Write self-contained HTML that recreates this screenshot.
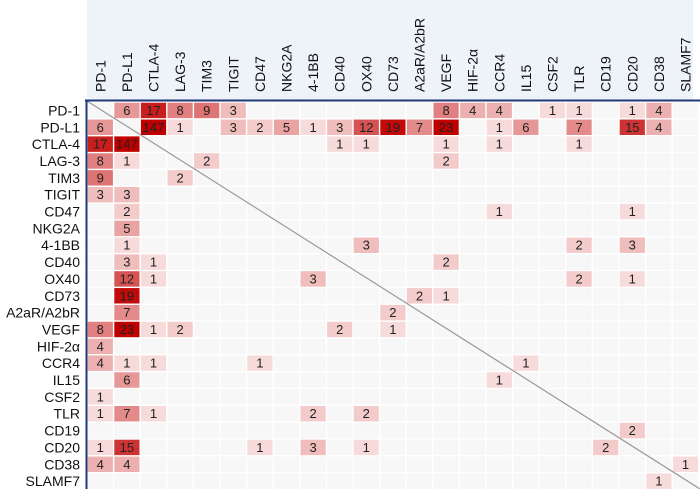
<!DOCTYPE html>
<html><head><meta charset="utf-8"><style>
html,body{margin:0;padding:0;background:#fff;width:700px;height:489px;overflow:hidden}
svg text{font-family:"Liberation Sans",Arial,sans-serif;}
</style></head><body>
<svg id="chart" width="700" height="489" viewBox="0 0 700 489" xmlns="http://www.w3.org/2000/svg">
<rect x="87" y="0" width="606" height="100" fill="#eef3fa"/>
<g id="cells"></g>
<g id="labels"></g>
<line x1="87" y1="101" x2="700" y2="489" stroke="#999" stroke-width="1.2"/>
<line x1="85" y1="100.5" x2="700" y2="100.5" stroke="#1f3a7a" stroke-width="2"/>
<line x1="86.5" y1="100" x2="86.5" y2="489" stroke="#1f3a7a" stroke-width="2"/>
</svg>
<script>
const targets = ["PD-1","PD-L1","CTLA-4","LAG-3","TIM3","TIGIT","CD47","NKG2A","4-1BB","CD40","OX40","CD73","A2aR/A2bR","VEGF","HIF-2α","CCR4","IL15","CSF2","TLR","CD19","CD20","CD38","SLAMF7"];
// row, column, count
const pairRows = [0,0,0,0,0,0,0,0,0,0,0,0,
 1,1,1,1,1,1,1,1,1,1,1,1,1,1,1,1,1,
 2,2,2,2,2,2,2,
 3,3,3,3, 4,4, 5,5, 6,6,6, 7, 8,8,8,8, 9,9,9,
 10,10,10,10,10, 11,11,11, 12,12,
 13,13,13,13,13,13, 14, 15,15,15,15,15, 16,16, 17,
 18,18,18,18,18, 19, 20,20,20,20,20,20, 21,21,21, 22];
const pairCols = [1,2,3,4,5,13,14,15,17,18,20,21,
 0,2,3,5,6,7,8,9,10,11,12,13,15,16,18,20,21,
 0,1,9,10,13,15,18,
 0,1,4,13, 0,3, 0,1, 1,15,20, 1, 1,10,18,20, 1,2,13,
 1,2,8,18,20, 1,12,13, 1,11,
 0,1,2,3,9,11, 0, 0,1,2,6,16, 1,15, 0,
 0,1,2,8,10, 20, 0,1,6,8,10,19, 0,1,22, 21];
const pairValues = [6,17,8,9,3,8,4,4,1,1,1,4,
 6,147,1,3,2,5,1,3,12,19,7,23,1,6,7,15,4,
 17,147,1,1,1,1,1,
 8,1,2,2, 9,2, 3,3, 2,1,1, 5, 1,3,2,3, 3,1,2,
 12,1,3,2,1, 19,2,1, 7,2,
 8,23,1,2,2,1, 4, 4,1,1,1,1, 6,1, 1,
 1,7,1,2,2, 2, 1,15,1,3,1,2, 4,4,1, 1];

const NS="http://www.w3.org/2000/svg";
const x0=87, y0=102, cw=26.6, rh=16.85;
const xPos=i=>x0+i*cw, yPos=j=>y0+j*rh;
function color(v){
  if(!v) return "#f7f7f7";
  const t=Math.min(v,20)/20, a=[252,236,236], b=[192,0,0];
  const c=a.map((s,k)=>Math.round(s+(b[k]-s)*Math.pow(t,0.85)));
  return `rgb(${c[0]},${c[1]},${c[2]})`;
}
const cells=document.getElementById('cells'), labels=document.getElementById('labels');
const grid={};
pairRows.forEach((r,k)=>grid[r+"_"+pairCols[k]]=pairValues[k]);
for(let r=0;r<targets.length;r++){
  for(let c=0;c<targets.length;c++){
    const v=grid[r+"_"+c];
    const rect=document.createElementNS(NS,'rect');
    
    
    rect.setAttribute('x',xPos(c)+0.7);rect.setAttribute('y',yPos(r)+0.7);
    rect.setAttribute('width',cw-1.4);rect.setAttribute('height',rh-1.4);
    rect.setAttribute('fill',color(v));
    cells.appendChild(rect);
    if(v){
      const t=document.createElementNS(NS,'text');
      
      
      t.setAttribute('x',xPos(c)+cw/2);t.setAttribute('y',yPos(r)+rh/2+4.5);
      t.setAttribute('text-anchor','middle');t.setAttribute('font-size','13');
      t.setAttribute('fill','#222');
      t.textContent=v;cells.appendChild(t);
    }
  }
}
targets.forEach((n,i)=>{
  const t=document.createElementNS(NS,'text');
  
  
  t.setAttribute('x',80);t.setAttribute('y',yPos(i)+rh/2+5);
  t.setAttribute('text-anchor','end');t.setAttribute('font-size','14');t.setAttribute('fill','#111');
  t.textContent=n;labels.appendChild(t);
  const c=document.createElementNS(NS,'text');
  
  
  const cx=xPos(i)+cw/2+5;
  c.setAttribute('transform',`translate(${cx},92) rotate(-90)`);
  c.setAttribute('font-size','14');c.setAttribute('fill','#111');
  c.textContent=n;labels.appendChild(c);
});
</script>
</body></html>
